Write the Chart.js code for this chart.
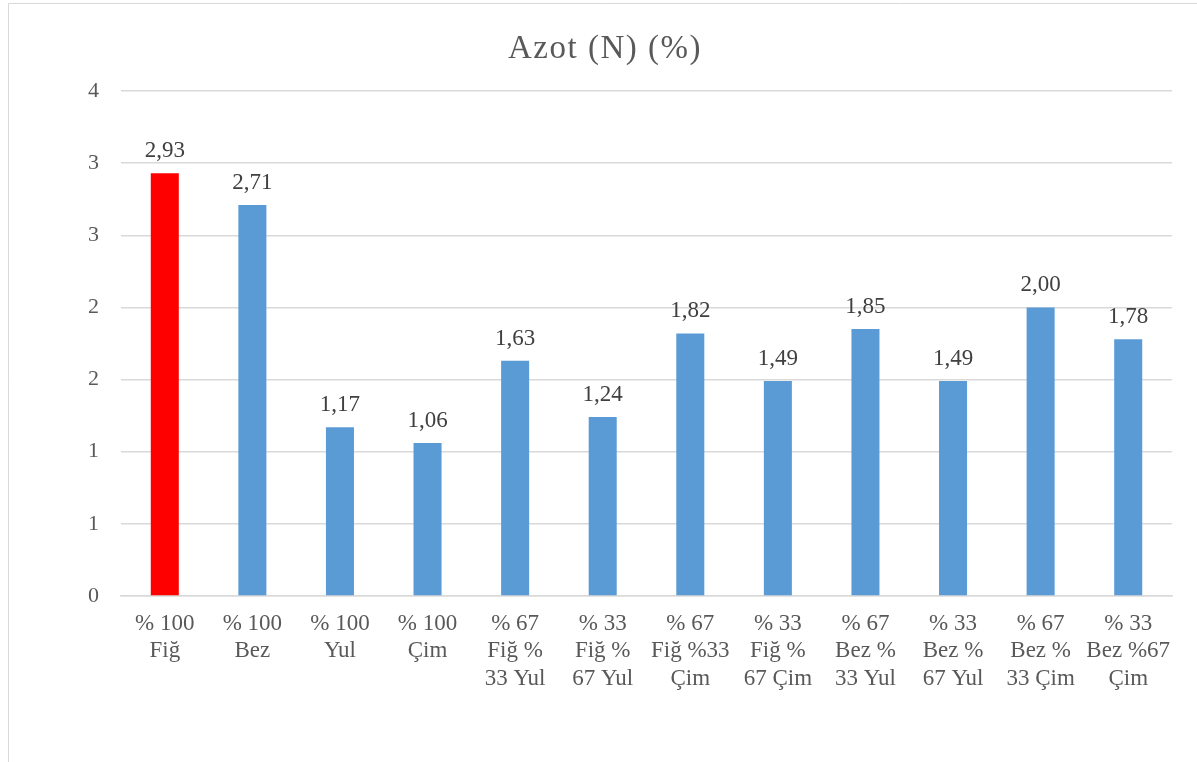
<!DOCTYPE html>
<html>
<head>
<meta charset="utf-8">
<script src="https://cdn.jsdelivr.net/npm/chart.js@4/dist/chart.umd.min.js"></script>
<style>
  html, body { margin: 0; padding: 0; background: #ffffff; }
  #wrap { width: 1197px; height: 762px; position: relative; }
</style>
</head>
<body>
<div id="wrap"><canvas id="c" width="1197" height="762"></canvas></div>
<script>
// Mixture treatments (category labels, one line per array entry)
const categories = [
  ["% 100", "Fiğ"],
  ["% 100", "Bez"],
  ["% 100", "Yul"],
  ["% 100", "Çim"],
  ["% 67", "Fiğ %", "33 Yul"],
  ["% 33", "Fiğ %", "67 Yul"],
  ["% 67", "Fiğ %33", "Çim"],
  ["% 33", "Fiğ %", "67 Çim"],
  ["% 67", "Bez %", "33 Yul"],
  ["% 33", "Bez %", "67 Yul"],
  ["% 67", "Bez %", "33 Çim"],
  ["% 33", "Bez %67", "Çim"]
];

// Nitrogen content (%)
const nitrogen = [2.93, 2.71, 1.17, 1.06, 1.63, 1.24, 1.82, 1.49, 1.85, 1.49, 2.00, 1.78];

// Value axis ticks
const yMin = 0;
const yMax = 3.5;
const yStep = 0.5;

const chartTitle = 'Azot (N) (%)';

const highlightIndex = 0;
const barColors = nitrogen.map((v, i) => i === highlightIndex ? '#FF0000' : '#5B9BD5');

const serif = '"Liberation Serif", "Times New Roman", serif';

// White background, light frame and the spaced-out title
const framePlugin = {
  id: 'frame',
  beforeDraw(chart) {
    const ctx = chart.ctx;
    ctx.save();
    ctx.fillStyle = '#ffffff';
    ctx.fillRect(0, 0, chart.width, chart.height);
    ctx.strokeStyle = '#d9d9d9';
    ctx.lineWidth = 1;
    ctx.beginPath();
    ctx.moveTo(8.5, chart.height + 2);
    ctx.lineTo(8.5, 3.5);
    ctx.lineTo(chart.width + 2, 3.5);
    ctx.stroke();

    ctx.font = '33px ' + serif;
    ctx.fillStyle = '#595959';
    ctx.textAlign = 'center';
    ctx.textBaseline = 'alphabetic';
    if ('letterSpacing' in ctx) ctx.letterSpacing = '1.5px';
    ctx.fillText(chartTitle, 605, 58);
    ctx.restore();
  }
};

// Value labels above each bar, with a decimal comma
const valueLabels = {
  id: 'valueLabels',
  afterDatasetsDraw(chart) {
    const ctx = chart.ctx;
    const meta = chart.getDatasetMeta(0);
    ctx.save();
    ctx.font = '23px ' + serif;
    ctx.fillStyle = '#404040';
    ctx.textAlign = 'center';
    ctx.textBaseline = 'alphabetic';
    meta.data.forEach((bar, i) => {
      const txt = nitrogen[i].toFixed(2).replace('.', ',');
      ctx.fillText(txt, bar.x, bar.y - 16);
    });
    ctx.restore();
  }
};

new Chart(document.getElementById('c'), {
  type: 'bar',
  data: {
    labels: categories,
    datasets: [{
      data: nitrogen,
      backgroundColor: barColors,
      borderWidth: 0,
      barPercentage: 0.64,
      categoryPercentage: 0.5
    }]
  },
  options: {
    responsive: false,
    animation: false,
    layout: { padding: { top: 91, left: 8, right: 25, bottom: 0 } },
    plugins: {
      legend: { display: false },
      tooltip: { enabled: false },
      title: { display: false }
    },
    scales: {
      x: {
        grid: { display: false, drawTicks: false },
        border: { display: true, color: '#d9d9d9', width: 1.5 },
        ticks: {
          color: '#595959',
          font: { family: serif, size: 23, lineHeight: 1.2 },
          padding: 14,
          maxRotation: 0,
          minRotation: 0,
          autoSkip: false
        },
        afterFit(scale) { scale.height = 166; }
      },
      y: {
        min: yMin,
        max: yMax,
        grid: { color: '#d9d9d9', lineWidth: 1.5, drawTicks: false },
        border: { display: false },
        ticks: {
          stepSize: yStep,
          color: '#595959',
          font: { family: serif, size: 22 },
          padding: 22,
          callback: (v) => String(Math.round(v))
        },
        afterFit(scale) { scale.width = 113; }
      }
    }
  },
  plugins: [framePlugin, valueLabels]
});
</script>
</body>
</html>
